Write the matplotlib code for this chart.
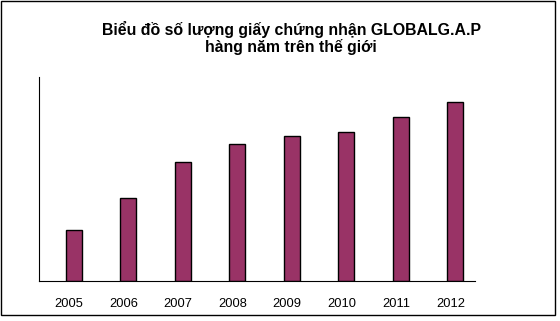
import matplotlib.pyplot as plt
from matplotlib.patches import Rectangle
from matplotlib.transforms import ScaledTranslation

plt.rcParams['font.family'] = ['Liberation Sans', 'DejaVu Sans']

years = ['2005', '2006', '2007', '2008', '2009', '2010', '2011', '2012']
# relative heights (no axis scale shown)
values = [51, 83, 119, 137, 145, 149, 164, 179]

fig = plt.figure(figsize=(5.6, 3.21), dpi=100)
ax = fig.add_axes([39/560, 40/321, 436/560, 204/321])

x = range(len(years))
ax.bar(x, values, width=0.29, color='#993366', edgecolor='black', linewidth=1)
ax.set_xlim(-0.64, 7.36)
ax.set_ylim(0, 204)
ax.set_xticks(list(x))
ax.set_xticklabels(years, fontsize=9.3)
ax.tick_params(axis='x', length=0, pad=12.5)
# labels sit a bit left of the bars in the original
shift = ScaledTranslation(-5/100, 0, fig.dpi_scale_trans)
for lab in ax.get_xticklabels():
    lab.set_transform(lab.get_transform() + shift)
ax.set_yticks([])
ax.spines['top'].set_visible(False)
ax.spines['right'].set_visible(False)

fig.text(0.52, 1 - 29/321, 'Biểu đồ số lượng giấy chứng nhận GLOBALG.A.P',
         ha='center', va='center', fontsize=11.4, fontweight='bold')
fig.text(0.52, 1 - 47/321, 'hàng năm trên thế giới',
         ha='center', va='center', fontsize=11.4, fontweight='bold')

fig.patches.append(Rectangle((1/560, 6/321), 554/560, 314/321, transform=fig.transFigure,
                             fill=False, edgecolor='black', linewidth=1))

fig.savefig('out.png', dpi=100)
